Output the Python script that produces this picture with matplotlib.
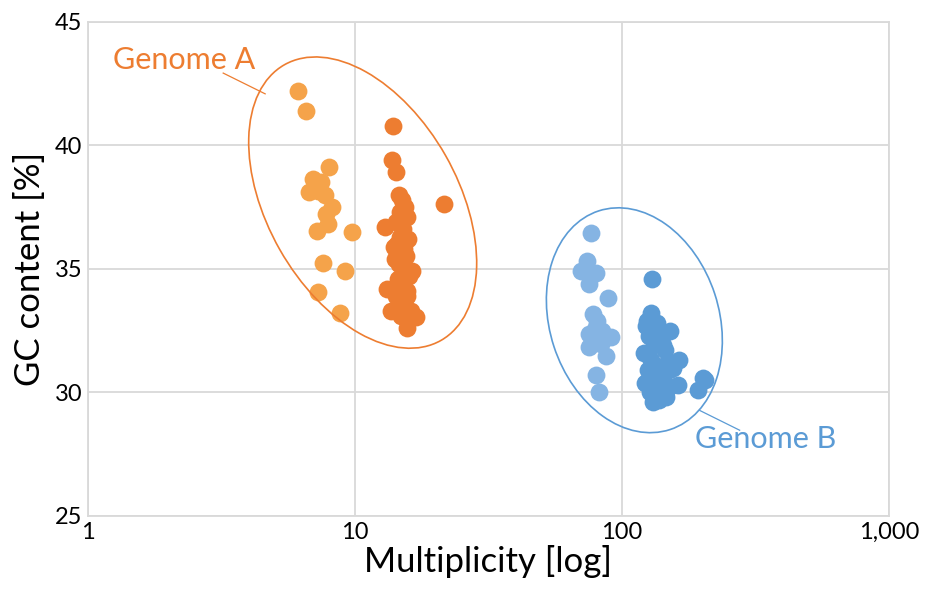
import matplotlib
matplotlib.use("Agg")
import matplotlib.pyplot as plt
import matplotlib.transforms as mtransforms
from matplotlib.patches import Ellipse
from matplotlib.ticker import FixedLocator, FixedFormatter, NullLocator

# Genome A, low-multiplicity group (light orange)
light_a_x = [6.11, 6.58, 8.0, 6.94, 7.43, 6.70, 7.3, 7.75, 8.19, 7.77, 7.95, 7.19, 9.74, 7.56, 9.18, 7.3, 8.8]
light_a_y = [42.2, 41.4, 39.1, 38.65, 38.5, 38.1, 38.15, 38.0, 37.5, 37.2, 36.8, 36.53, 36.5, 35.23, 34.9, 34.08, 33.2]

# Genome A, main group (dark orange)
dark_a_x = [13.9, 13.8, 14.3, 21.6, 14.6, 15.0, 15.4, 14.8, 15.6, 13.0, 14.2, 15.1, 14.7, 15.8, 14.4,
            15.2, 14.9, 15.5, 16.3, 14.6, 15.3, 14.1, 15.9, 13.2, 14.8, 15.6, 14.3, 15.0, 15.4, 13.7,
            14.9, 17.0, 16.2, 15.6, 14.5, 15.3, 14.0, 15.7]
dark_a_y = [40.77, 39.42, 38.9, 37.63, 38.0, 37.8, 37.5, 37.3, 37.1, 36.7, 36.9, 36.6, 36.3, 36.2, 36.0,
            35.8, 35.6, 35.5, 34.9, 35.2, 35.0, 35.4, 34.7, 34.2, 34.4, 34.1, 33.9, 33.7, 33.5, 33.3,
            33.1, 33.06, 33.3, 32.6, 34.6, 34.8, 35.9, 33.9]

# Genome B, low-multiplicity group (light blue)
light_b_x = [76.5, 74.3, 70.2, 79.9, 75.5, 88.4, 77.6, 79.9, 75.5, 91.0, 83.5, 87.2, 79.9, 82.2, 75.5,
             80.5, 84.0]
light_b_y = [36.46, 35.32, 34.92, 34.85, 34.38, 33.82, 33.17, 32.63, 32.37, 32.23, 31.96, 31.49, 30.69, 30.01, 31.83,
             32.9, 32.5]

# Genome B, main group (dark blue)
dark_b_x = [130, 128, 124, 123, 135, 152, 126, 140, 132, 121, 145, 164, 129, 138, 125,
            150, 162, 134, 122, 143, 201, 192, 204, 123, 138, 131, 146, 127, 155, 136,
            142, 147, 137, 150, 133]
dark_b_y = [34.6, 33.2, 32.9, 32.7, 32.8, 32.5, 32.3, 32.1, 31.9, 31.6, 31.7, 31.3, 31.3, 31.0, 30.9,
            30.9, 30.3, 30.6, 30.4, 30.2, 30.6, 30.1, 30.5, 30.4, 29.7, 29.6, 29.8, 30.0, 31.0, 32.0,
            31.9, 31.2, 30.6, 30.2, 32.4]

x_ticks = [1, 10, 100, 1000]
x_tick_labels = ["1", "10", "100", "1,000"]
y_ticks = [25, 30, 35, 40, 45]

ORANGE_LIGHT = "#f5a34a"
ORANGE = "#ed7d31"
BLUE_LIGHT = "#85b4e3"
BLUE = "#5b9bd5"
GRID = "#d9d9d9"

plt.rcParams.update({"font.family": ["Lato", "DejaVu Sans"]})
fig = plt.figure(figsize=(9.25, 5.97), dpi=100)
ax = fig.add_axes([0.0951, 0.1357, 0.8659, 0.828])

for xs, ys, col in [(light_a_x, light_a_y, ORANGE_LIGHT), (dark_a_x, dark_a_y, ORANGE),
                    (light_b_x, light_b_y, BLUE_LIGHT), (dark_b_x, dark_b_y, BLUE)]:
    ax.scatter(xs, ys, s=165, color=col, linewidths=0, zorder=3)

ax.set_xscale("log")
ax.set_xlim(1, 1000)
ax.set_ylim(25, 45)
ax.xaxis.set_major_locator(FixedLocator(x_ticks))
ax.xaxis.set_major_formatter(FixedFormatter(x_tick_labels))
ax.xaxis.set_minor_locator(NullLocator())
ax.set_yticks(y_ticks)
ax.tick_params(length=0, labelsize=17, pad=4)
ax.grid(True, color=GRID, linewidth=1.3)
ax.set_axisbelow(True)
for side in ax.spines.values():
    side.set_color(GRID)
    side.set_linewidth(1.3)

ax.set_xlabel("Multiplicity [log]", fontsize=25, labelpad=2)
ax.set_ylabel("GC content [%]", fontsize=25, labelpad=6)


def ring(center, width, height, angle, color):
    # ellipse sized in inches, anchored at a data point
    trans = fig.dpi_scale_trans + mtransforms.ScaledTranslation(center[0], center[1], ax.transData)
    ax.add_patch(Ellipse((0, 0), width, height, angle=angle, fill=False,
                         edgecolor=color, linewidth=1.2, transform=trans, zorder=4))


ring((10.69, 37.68), 3.17, 1.906, -60.4, ORANGE)
ring((111.3, 32.92), 2.30, 1.692, -71.9, BLUE)

ax.plot([3.21, 4.61], [42.92, 42.08], color=ORANGE, linewidth=0.9)
ax.plot([195.6, 276], [29.27, 28.47], color=BLUE, linewidth=0.9)
ax.text(2.29, 43.43, "Genome A", color=ORANGE, fontsize=22, ha="center", va="center")
ax.text(345, 28.12, "Genome B", color=BLUE, fontsize=22, ha="center", va="center")

fig.savefig("out.png", dpi=100)
